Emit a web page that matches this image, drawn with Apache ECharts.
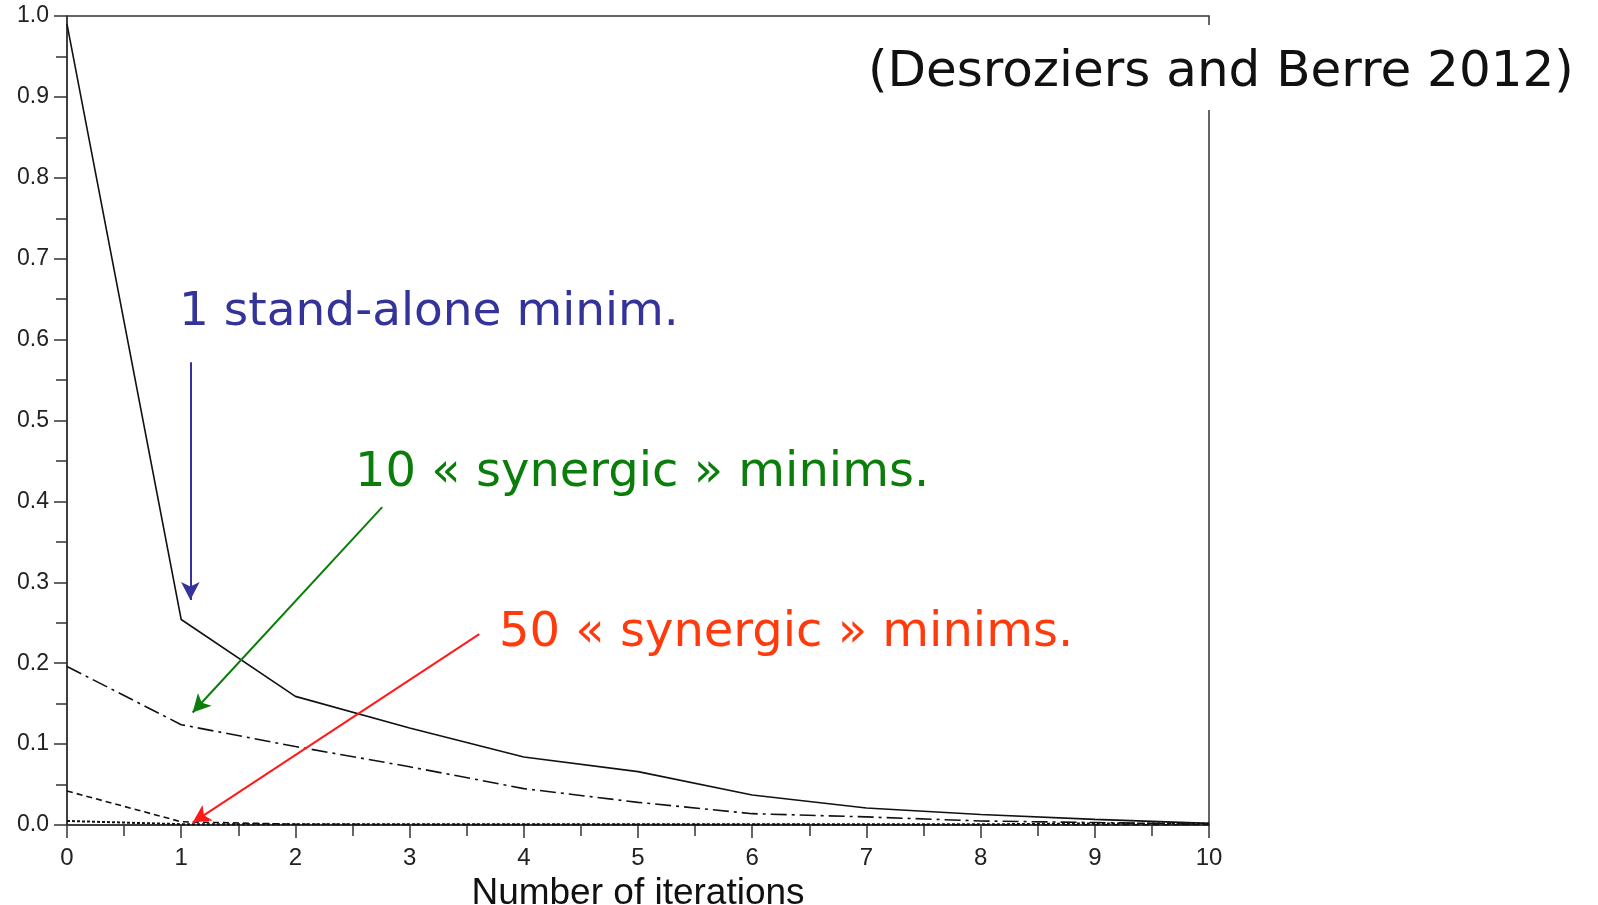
<!DOCTYPE html>
<html>
<head>
<meta charset="utf-8">
<script src="https://cdn.jsdelivr.net/npm/echarts@6/dist/echarts.min.js"></script>
<style>
html,body{margin:0;padding:0;background:#fff;}
#chart{width:1598px;height:905px;}
</style>
</head>
<body>
<div id="chart"></div>
<script>
// ---- data ----
const iterations = [0, 1, 2, 3, 4, 5, 6, 7, 8, 9, 10];
const standAlone1 = [0.99, 0.254, 0.159, 0.120, 0.084, 0.066, 0.037, 0.021, 0.013, 0.007, 0.002];
const synergic10  = [0.196, 0.124, 0.097, 0.072, 0.045, 0.028, 0.014, 0.010, 0.005, 0.003, 0.001];
const synergic50  = [0.042, 0.004, 0.001, 0.0005, 0.0005, 0.0005, 0.0005, 0.0003, 0.0003, 0.0003, 0.0003];
const nearZero    = [0.005, 0.001, 0.001, 0.001, 0.001, 0.001, 0.0008, 0.0008, 0.0008, 0.002, 0.002];
const xTicks = [0, 1, 2, 3, 4, 5, 6, 7, 8, 9, 10];
const yTicks = [0.0, 0.1, 0.2, 0.3, 0.4, 0.5, 0.6, 0.7, 0.8, 0.9, 1.0];
const titleText = '(Desroziers and Berre 2012)';
const notes = [
  {text: '1 stand-alone minim.', color: '#333399'},
  {text: '10 \u00ab synergic \u00bb minims.', color: '#0a7d0a'},
  {text: '50 \u00ab synergic \u00bb minims.', color: '#ff3a0d'}
];
// arrows in data coordinates: [from, to]
const arrows = [
  {from: [1.08, 0.572], to: [1.08, 0.278], color: '#333399'},
  {from: [2.76, 0.393], to: [1.10, 0.139], color: '#0a7d0a'},
  {from: [3.61, 0.236], to: [1.10, 0.003], color: '#ff1a1a'}
];

const pairs = vals => iterations.map((x, i) => [x, vals[i]]);

const chart = echarts.init(document.getElementById('chart'), null, {renderer: 'canvas'});
const tickFont = 'Liberation Sans, Arial, sans-serif';
const noteFont = 'DejaVu Sans, sans-serif';

const option = {
  animation: false,
  backgroundColor: '#fff',
  grid: {left: 67, right: 389, top: 16, bottom: 80, containLabel: false, outerBoundsMode: 'none',
    show: true, borderColor: '#333', borderWidth: 1.5, backgroundColor: 'transparent'},
  xAxis: {
    type: 'value', min: xTicks[0], max: xTicks[xTicks.length - 1], interval: 1,
    name: 'Number of iterations', nameLocation: 'middle', nameGap: 44,
    nameTextStyle: {fontFamily: tickFont, fontSize: 37, color: '#111'},
    axisLine: {lineStyle: {color: '#333', width: 1.5}},
    axisTick: {show: true, inside: false, length: 13, lineStyle: {color: '#333', width: 1.5}},
    minorTick: {show: true, splitNumber: 2, length: 11, lineStyle: {color: '#333', width: 1.5}},
    splitLine: {show: false},
    axisLabel: {fontFamily: tickFont, fontSize: 24, color: '#222', margin: 21}
  },
  yAxis: {
    type: 'value', min: yTicks[0], max: yTicks[yTicks.length - 1], interval: 0.1,
    axisLine: {lineStyle: {color: '#333', width: 1.5}},
    axisTick: {show: true, inside: false, length: 13, lineStyle: {color: '#333', width: 1.5}},
    minorTick: {show: true, splitNumber: 2, length: 11, lineStyle: {color: '#333', width: 1.5}},
    splitLine: {show: false},
    axisLabel: {fontFamily: tickFont, fontSize: 23, color: '#222', margin: 18, formatter: v => v.toFixed(1)}
  },
  series: [
    {type: 'line', data: pairs(standAlone1), symbol: 'none', lineStyle: {color: '#111', width: 1.6, type: 'solid'}},
    {type: 'line', data: pairs(synergic10), symbol: 'none', lineStyle: {color: '#111', width: 1.6, type: [16, 5, 3, 5]}},
    {type: 'line', data: pairs(synergic50), symbol: 'none', lineStyle: {color: '#111', width: 1.6, type: [6, 4]}},
    {type: 'line', data: pairs(nearZero), symbol: 'none', lineStyle: {color: '#111', width: 2, type: [3, 2]},
      markLine: {
        silent: true, animation: false,
        symbol: ['none', 'arrow'], symbolSize: [14, 18],
        label: {show: false},
        data: arrows.map(a => [
          {coord: a.from, lineStyle: {color: a.color, width: 2, type: 'solid'}, itemStyle: {color: a.color}},
          {coord: a.to}
        ])
      }
    }
  ],
  graphic: [
    {type: 'text', left: 858, top: 25, z: 100,
      style: {text: titleText, fontFamily: noteFont, fontSize: 50, fill: '#111', backgroundColor: '#fff',
        padding: [18, 10, 6, 10], lineHeight: 61}},
    {type: 'text', x: 179, y: 313, z: 100, style: {text: notes[0].text, fontFamily: noteFont, fontSize: 47, fill: notes[0].color, verticalAlign: 'middle'}},
    {type: 'text', x: 355, y: 474, z: 100, style: {text: notes[1].text, fontFamily: noteFont, fontSize: 48, fill: notes[1].color, verticalAlign: 'middle'}},
    {type: 'text', x: 499, y: 634, z: 100, style: {text: notes[2].text, fontFamily: noteFont, fontSize: 48, fill: notes[2].color, verticalAlign: 'middle'}}
  ]
};
chart.setOption(option);
</script>
</body>
</html>
